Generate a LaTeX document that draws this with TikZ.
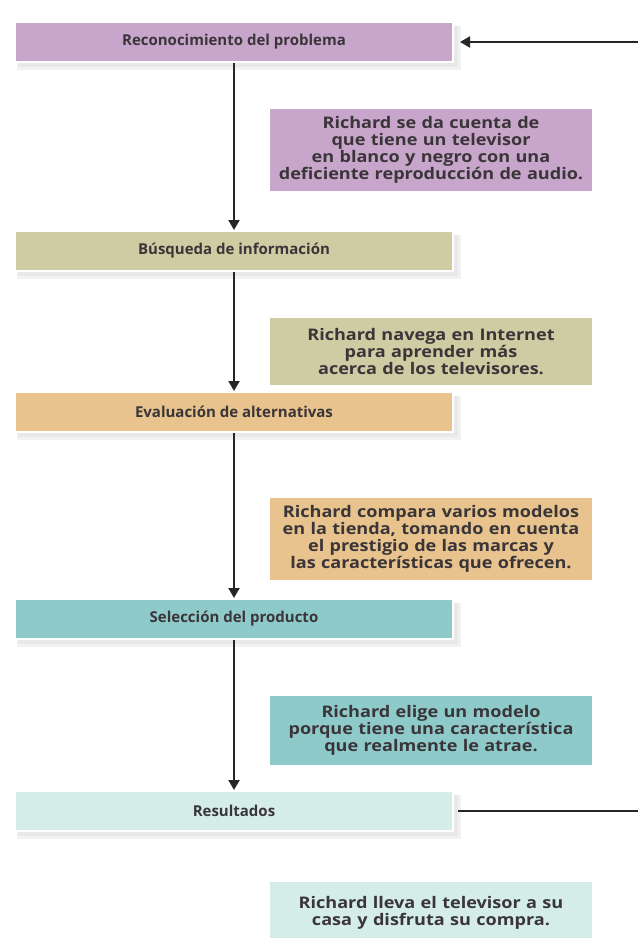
\documentclass[tikz,border=0pt]{standalone}
\usepackage{fontspec}
\setmainfont{Open Sans}
\newfontfamily\headfont{Open Sans}
\newfontfamily\descfont{Open Sans}[FakeStretch=1.13]
\usetikzlibrary{arrows.meta}
\definecolor{txt}{HTML}{3A3538}
\definecolor{c1}{HTML}{C8A6CB}
\definecolor{c2}{HTML}{CFCBA3}
\definecolor{c3}{HTML}{E8C38D}
\definecolor{c4}{HTML}{8FCACB}
\definecolor{c5}{HTML}{D5EDE8}
\begin{document}
\begin{tikzpicture}[x=1pt,y=-1pt,
  head/.style={draw=white,line width=2pt,minimum width=438pt,minimum height=40pt,inner sep=0pt,
     font=\headfont\bfseries\fontsize{15}{17}\selectfont,text=txt},
  desc/.style={minimum width=322pt,text width=318pt,inner sep=2pt,align=center,
     font=\descfont\bfseries\fontsize{16}{17.2}\selectfont,text=txt},
  flow/.style={draw=black!85,line width=2pt,-{Triangle[length=10pt,width=11pt]}},
  ret/.style={draw=black!85,line width=2pt}]
\useasboundingbox (0,0) rectangle (638,938);
\fill[white] (0,0) rectangle (638,938);
% soft shadows of the step boxes
\foreach \y in {42,251,412,619,811}{
  \fill[black!5] (17,\y-16) rectangle (461,\y+28);
  \fill[black!9] (18,\y-16) rectangle (458,\y+25);
}
\node[head,fill=c1] (h1) at (234,42) {Reconocimiento del problema};
\node[head,fill=c2] (h2) at (234,251) {Búsqueda de información};
\node[head,fill=c3] (h3) at (234,412) {Evaluación de alternativas};
\node[head,fill=c4] (h4) at (234,619) {Selección del producto};
\node[head,fill=c5] (h5) at (234,811) {Resultados};
\node[desc,fill=c1,minimum height=82pt] (d1) at (431,150) {Richard se da cuenta de\\que tiene un televisor\\en blanco y negro con una\\deficiente reproducción de audio.};
\node[desc,fill=c2,minimum height=67pt] (d2) at (431,351.5) {Richard navega en Internet\\para aprender más\\acerca de los televisores.};
\node[desc,fill=c3,minimum height=82pt] (d3) at (431,539) {Richard compara varios modelos\\en la tienda, tomando en cuenta\\el prestigio de las marcas y\\las características que ofrecen.};
\node[desc,fill=c4,minimum height=69pt] (d4) at (431,730.5) {Richard elige un modelo\\porque tiene una característica\\que realmente le atrae.};
\node[desc,fill=c5,minimum height=62pt] (d5) at (431,913) {Richard lleva el televisor a su\\casa y disfruta su compra.};
\draw[flow] (h1.south) -- (h2.north);
\draw[flow] (h2.south) -- (h3.north);
\draw[flow] (h3.south) -- (h4.north);
\draw[flow] (h4.south) -- (h5.north);
\coordinate (r5) at (638,811);
\coordinate (r1) at (638,42);
\draw[ret] ([xshift=4pt]h5.east) -- (r5);
\draw[flow] (r1) -- ([xshift=6pt]h1.east);
\end{tikzpicture}
\end{document}
